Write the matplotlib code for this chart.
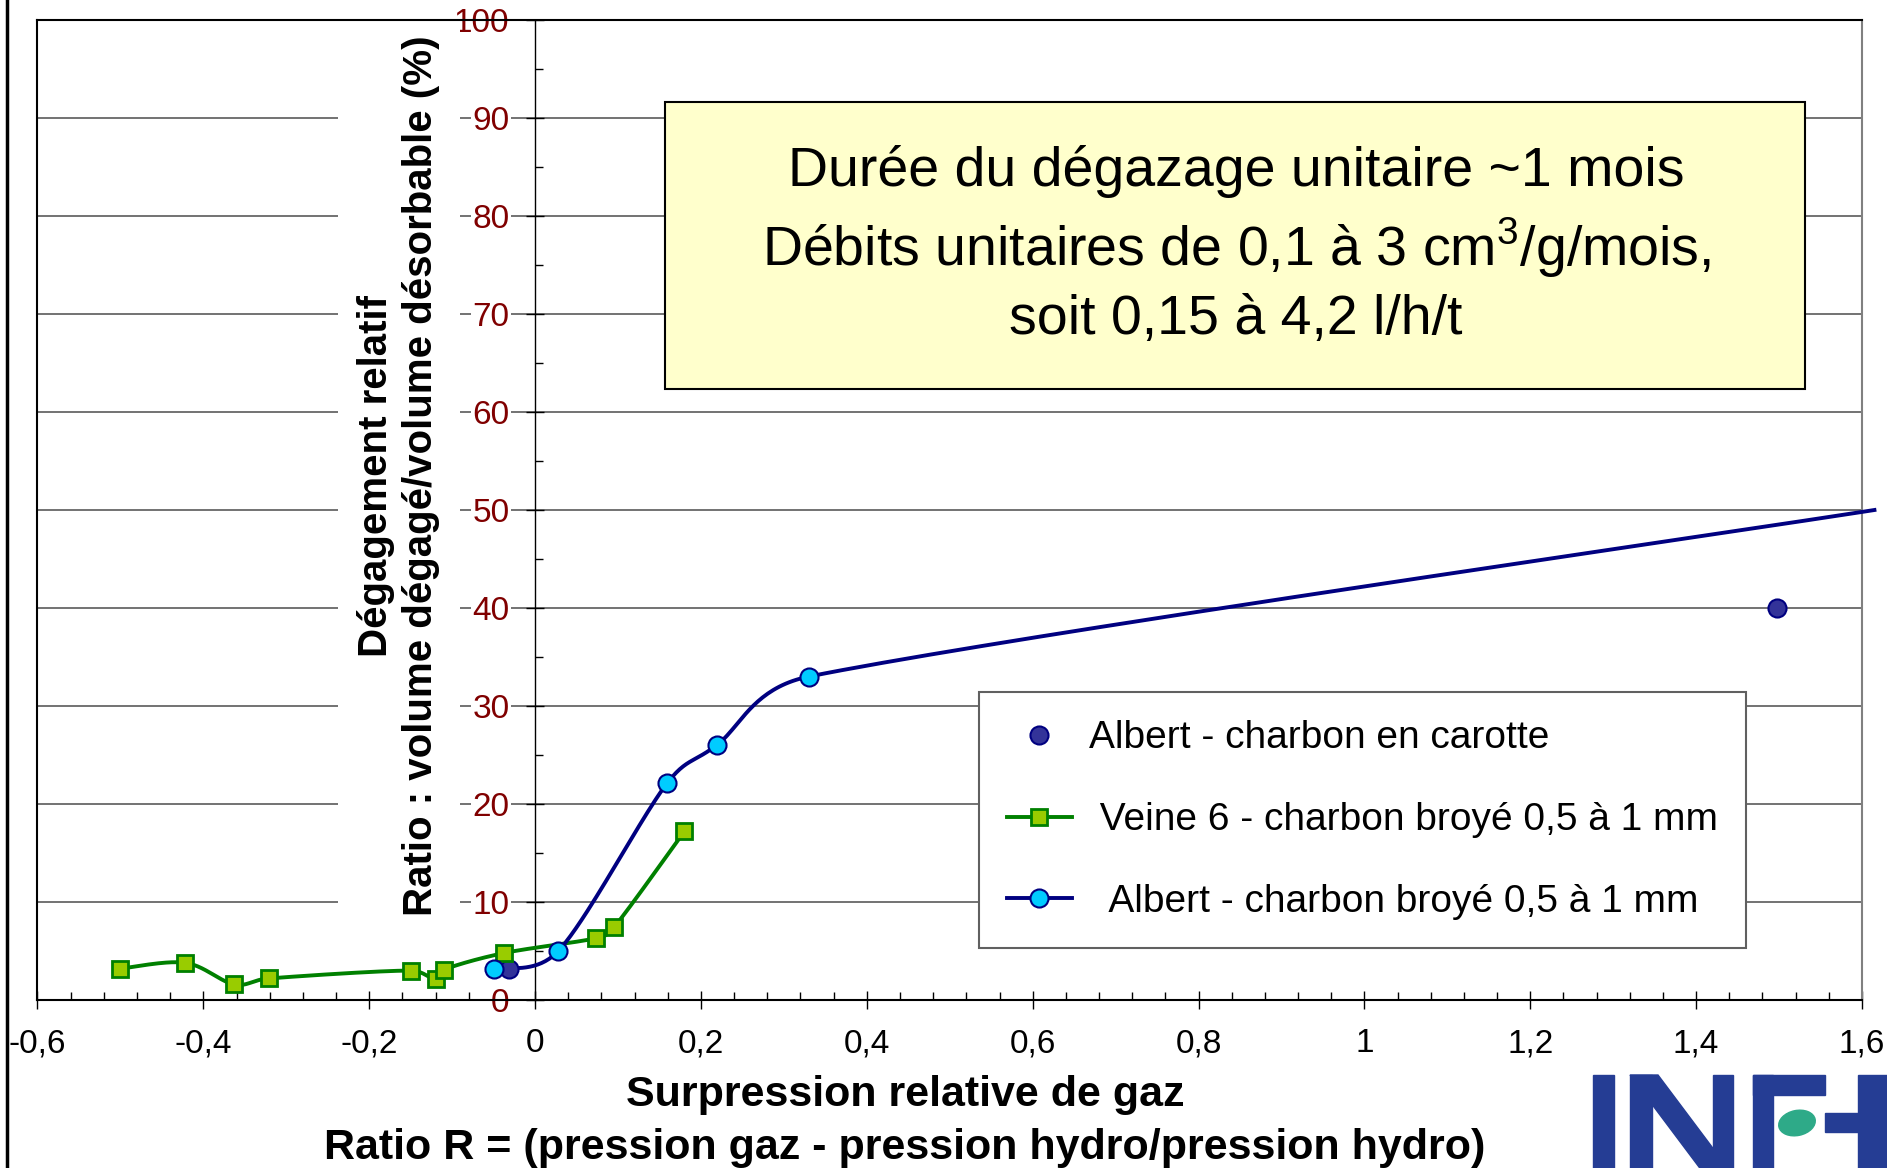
import numpy as np
import matplotlib
matplotlib.use("Agg")
import matplotlib.pyplot as plt
from matplotlib.lines import Line2D
from matplotlib.patches import Rectangle, Polygon, Ellipse
from matplotlib.ticker import MultipleLocator, FuncFormatter

plt.rcParams['font.family'] = ['Liberation Sans', 'DejaVu Sans']
plt.rcParams['mathtext.fontset'] = 'custom'
plt.rcParams['mathtext.rm'] = 'Liberation Sans'

# --- data --------------------------------------------------------------------
x_carotte = [-0.031, 1.497]
y_carotte = [3.2, 40.0]

x_veine6 = [-0.50, -0.422, -0.363, -0.321, -0.150, -0.120, -0.110, -0.037, 0.073, 0.095, 0.180]
y_veine6 = [3.2, 3.8, 1.6, 2.2, 3.0, 2.1, 3.1, 4.8, 6.3, 7.4, 17.2]

# last point has no marker, the curve just runs out to the frame
x_broye = [-0.050, 0.028, 0.159, 0.219, 0.330, 1.615]
y_broye = [3.2, 5.0, 22.1, 26.0, 33.0, 50.0]
n_broye_markers = 5

labels = ['Albert - charbon en carotte',
          ' Veine 6 - charbon broyé 0,5 à 1 mm',
          '  Albert - charbon broyé 0,5 à 1 mm']

box_lines = ['Durée du dégazage unitaire ~1 mois',
             r'Débits unitaires de 0,1 à 3 cm$^{\mathrm{3}}$/g/mois,',
             'soit 0,15 à 4,2 l/h/t']

xlabel = 'Surpression relative de gaz\nRatio R = (pression gaz - pression hydro/pression hydro)'
ylabel = 'Dégagement relatif\nRatio : volume dégagé/volume désorbable (%)'

# colours
c_green = '#008000'
c_lime = '#99CC00'
c_navy = '#000080'
c_cyan = '#00CCFF'
c_dot = '#333399'
c_red = '#800000'


def excel_smooth(ax, xs, ys, n=40):
    """bezier smoothing like excel's 'smoothed line', done in pixel space"""
    pts = ax.transData.transform(np.column_stack([xs, ys]))
    out = [pts[0]]
    t = np.linspace(0, 1, n)[1:, None]

    def arm(vec, seg_len):
        # keep control arms from overshooting short segments (no loops)
        L = np.hypot(*vec)
        lim = 0.5 * seg_len
        if L > lim:
            vec = vec * lim / L
        return vec

    for i in range(len(pts) - 1):
        p0 = pts[i - 1] if i > 0 else pts[i]
        p1 = pts[i]
        p2 = pts[i + 1]
        p3 = pts[i + 2] if i + 2 < len(pts) else pts[i + 1]
        d12 = np.hypot(*(p2 - p1))
        c1 = p1 + arm((p2 - p0) / 6, d12)
        c2 = p2 - arm((p3 - p1) / 6, d12)
        seg = (1 - t)**3 * p1 + 3 * (1 - t)**2 * t * c1 + 3 * (1 - t) * t**2 * c2 + t**3 * p2
        out.extend(seg)
    res = ax.transData.inverted().transform(np.array(out))
    return res[:, 0], res[:, 1]


fig = plt.figure(figsize=(18.87, 11.68), dpi=100)
ax = fig.add_axes([0.01987, 0.14384, 0.96688, 0.83904])
ax.set_xlim(-0.6, 1.6)
ax.set_ylim(0, 100)
ax.set_axisbelow(True)

# spines
ax.spines['left'].set_position(('data', 0))
ax.spines['left'].set_linewidth(1.0)
ax.spines['bottom'].set_linewidth(1.5)
ax.spines['top'].set_linewidth(1.5)
ax.spines['right'].set_color('#808080')
ax.spines['right'].set_linewidth(1.5)
ax.axvline(-0.6, color='black', lw=1.5, clip_on=False)

# ticks
ax.xaxis.set_major_locator(MultipleLocator(0.2))
ax.xaxis.set_minor_locator(MultipleLocator(0.04))
ax.yaxis.set_major_locator(MultipleLocator(10))
ax.yaxis.set_minor_locator(MultipleLocator(5))
ax.xaxis.set_major_formatter(FuncFormatter(lambda v, p: ('%g' % round(v, 2)).replace('.', ',')))
ax.yaxis.set_major_formatter(FuncFormatter(lambda v, p: '%g' % v))
ax.tick_params(which='major', direction='inout', length=13, width=1.0, labelsize=24)
ax.tick_params(axis='x', which='major', pad=14)
ax.tick_params(axis='y', which='major', pad=12, labelcolor=c_red)
ax.tick_params(which='minor', direction='in', length=6, width=1.0)

ax.yaxis.grid(True, which='major', color='#5a5a5a', lw=1.2)

ax.set_xlabel(xlabel, fontsize=31, fontweight='bold', linespacing=1.4, ha='center', va='top')
ax.xaxis.set_label_coords(0.4755, -0.077)
ax.set_ylabel(ylabel, fontsize=29, fontweight='bold', linespacing=1.25, ha='center', va='center',
              bbox=dict(facecolor='white', edgecolor='none', pad=14))
ax.yaxis.set_label_coords(0.198, 0.535)

# series
ax.plot(x_carotte, y_carotte, linestyle='none', marker='o', markersize=13,
        markerfacecolor=c_dot, markeredgecolor=c_navy, markeredgewidth=1.5, zorder=4)

sx, sy = excel_smooth(ax, x_veine6, y_veine6)
ax.plot(sx, sy, color=c_green, lw=2.8, zorder=3)
ax.plot(x_veine6, y_veine6, linestyle='none', marker='s', markersize=12,
        markerfacecolor=c_lime, markeredgecolor=c_green, markeredgewidth=2, zorder=4)

sx, sy = excel_smooth(ax, x_broye, y_broye)
ax.plot(sx, sy, color=c_navy, lw=2.8, zorder=3, clip_on=False)
ax.plot(x_broye[:n_broye_markers], y_broye[:n_broye_markers], linestyle='none', marker='o',
        markersize=13, markerfacecolor=c_cyan, markeredgecolor=c_navy, markeredgewidth=1.5, zorder=5)

handles = [
    Line2D([], [], linestyle='none', marker='o', markersize=13, markerfacecolor=c_dot,
           markeredgecolor=c_navy, markeredgewidth=1.5),
    Line2D([], [], color=c_green, lw=2.8, marker='s', markersize=12, markerfacecolor=c_lime,
           markeredgecolor=c_green, markeredgewidth=2),
    Line2D([], [], color=c_navy, lw=2.8, marker='o', markersize=13, markerfacecolor=c_cyan,
           markeredgecolor=c_navy, markeredgewidth=1.5),
]
leg = ax.legend(handles, labels, loc='upper left', bbox_to_anchor=(0.516, 0.314), borderaxespad=0,
                fontsize=28, numpoints=1, handlelength=1.67, handletextpad=0.45,
                labelspacing=1.18, borderpad=0.72, fancybox=False, framealpha=1)
leg.get_frame().set_edgecolor('#606060')
leg.get_frame().set_linewidth(1.5)
leg.set_zorder(6)

# yellow note
ax.add_patch(Rectangle((0.344, 0.623), 0.625, 0.293, transform=ax.transAxes,
                       facecolor='#FFFFCC', edgecolor='black', lw=1.5, zorder=6))
ax.text(0.657, 0.7695, '\n'.join(box_lines), transform=ax.transAxes, ha='center', va='center',
        fontsize=40, linespacing=1.35, zorder=7)

# white boxes under tick labels so the grid stops at them
fig.canvas.draw()
for tick in ax.yaxis.get_major_ticks():
    tick.label1.set_bbox(dict(facecolor='white', edgecolor='none', pad=1))

# slide decorations: frame line on the left and the logo corner
deco = fig.add_axes([0, 0, 1, 1], zorder=10)
deco.set_xlim(0, 1887)
deco.set_ylim(1168, 0)
deco.axis('off')
deco.patch.set_alpha(0)
deco.plot([7, 7], [0, 1168], color='black', lw=2.5)
blue = '#253D94'
deco.add_patch(Rectangle((1593, 1075), 21, 100, color=blue))           # I
deco.add_patch(Rectangle((1630, 1075), 22, 100, color=blue))           # N
deco.add_patch(Rectangle((1713, 1075), 20, 100, color=blue))
deco.add_patch(Polygon([(1630, 1075), (1658, 1075), (1733, 1175), (1705, 1175)],
                       closed=True, color=blue))
deco.add_patch(Rectangle((1753, 1075), 20, 100, color=blue))           # E
deco.add_patch(Rectangle((1753, 1075), 72, 20, color=blue))
deco.add_patch(Ellipse((1797, 1123), 37, 25, angle=-12, color='#2EAA88'))
deco.add_patch(Rectangle((1825, 1113), 70, 19, color=blue))
deco.add_patch(Rectangle((1858, 1075), 40, 100, color=blue))

fig.savefig('out.png', dpi=100)
